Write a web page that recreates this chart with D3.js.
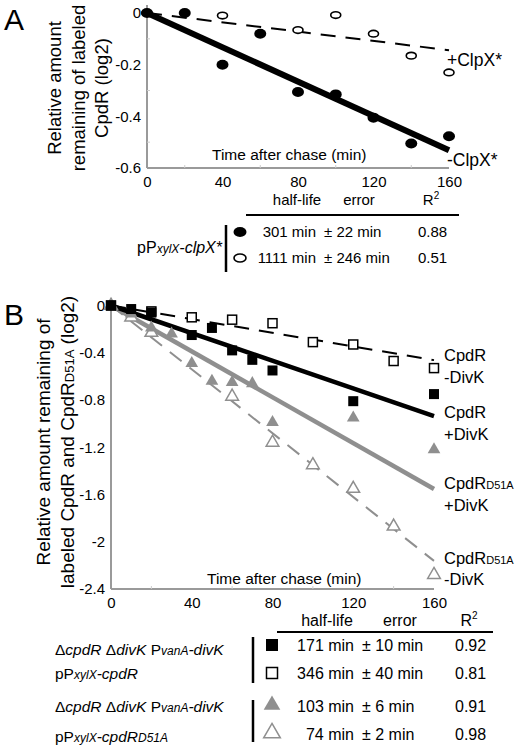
<!DOCTYPE html>
<html><head><meta charset="utf-8">
<script src="https://cdn.jsdelivr.net/npm/d3@7"></script>
<style>
body{margin:0;background:#fff;}
svg{display:block;font-family:"Liberation Sans",Arial,sans-serif;}
</style></head><body>
<svg id="c" width="517" height="749"></svg>
<script>
// ---------- Panel A data ----------
const timesA_minus = [0, 20, 40, 60, 80, 100, 120, 140, 160];
const valuesA_minus = [0, 0, -0.2, -0.08, -0.306, -0.315, -0.405, -0.505, -0.477];
const timesA_plus = [0, 40, 80, 100, 120, 140, 160];
const valuesA_plus = [0, -0.01, -0.066, -0.008, -0.08, -0.165, -0.23];
const halfLifeA = [301, 1111];           // -ClpX*, +ClpX*
const errorA = ["± 22 min", "± 246 min"];
const r2A = ["0.88", "0.51"];
const yTicksA = [0, -0.2, -0.4, -0.6];
const xTicks = [0, 40, 80, 120, 160];

// ---------- Panel B data ----------
const timesB_cpdRplus = [0, 10, 20, 40, 50, 60, 70, 80, 120, 160];
const valuesB_cpdRplus = [0, -0.03, -0.06, -0.25, -0.19, -0.38, -0.46, -0.55, -0.81, -0.75];
const timesB_cpdRminus = [0, 20, 40, 60, 80, 100, 120, 140, 160];
const valuesB_cpdRminus = [0, -0.05, -0.10, -0.12, -0.15, -0.31, -0.33, -0.47, -0.53];
const timesB_d51Aplus = [0, 10, 20, 30, 40, 50, 60, 70, 80, 120, 160];
const valuesB_d51Aplus = [0, -0.07, -0.19, -0.24, -0.49, -0.64, -0.65, -0.66, -0.99, -0.95, -1.22];
const timesB_d51Aminus = [0, 10, 20, 60, 80, 100, 120, 140, 160];
const valuesB_d51Aminus = [0, -0.1, -0.23, -0.77, -1.16, -1.35, -1.55, -1.87, -2.28];
const halfLifeB = [171, 346, 103, 74];   // CpdR+DivK, CpdR-DivK, D51A+DivK, D51A-DivK
const errorB = ["± 10 min", "± 40 min", "± 6 min", "± 2 min"];
const r2B = ["0.92", "0.81", "0.91", "0.98"];
const yTicksB = [0, -0.4, -0.8, -1.2, -1.6, -2, -2.4];

const GRAY = "#8f8f8f";
const AXIS = "#9a9a9a";
const svg = d3.select("#c");
const fmt = v => v === 0 ? "0" : String(v).replace("−", "-");

function addText(g, x, y, parts, opts = {}) {
  const t = g.append("text").attr("x", x).attr("y", y)
    .attr("font-size", opts.size || 16).attr("text-anchor", opts.anchor || "start")
    .attr("fill", opts.fill || "#000");
  if (opts.transform) t.attr("transform", opts.transform);
  parts.forEach(p => {
    const s = t.append("tspan").text(p.t);
    if (p.i) s.attr("font-style", "italic");
    if (p.s) s.attr("font-size", p.s);
  });
  return t;
}

// ================= PANEL A =================
const xA = d3.scaleLinear().domain([0, 160]).range([147, 449]);
const yA = d3.scaleLinear().domain([-0.6, 0]).range([168, 13]);
const gA = svg.append("g");

// axes
gA.append("line").attr("x1", xA(0)).attr("x2", xA(0)).attr("y1", 5).attr("y2", yA(-0.6))
  .attr("stroke", AXIS).attr("stroke-width", 2);
gA.append("line").attr("x1", xA(0)).attr("x2", xA(160)).attr("y1", yA(-0.6)).attr("y2", yA(-0.6))
  .attr("stroke", AXIS).attr("stroke-width", 2);
const yAxA = gA.append("g").attr("transform", `translate(${xA(0) - 3},0)`)
  .call(d3.axisLeft(yA).tickValues(yTicksA).tickSize(0).tickFormat(fmt));
yAxA.select(".domain").remove();
yAxA.selectAll("text").attr("font-size", 15).attr("font-family", "Liberation Sans, Arial").attr("fill", "#000");
const xAxA = gA.append("g").attr("transform", `translate(0,${yA(-0.6) + 5})`)
  .call(d3.axisBottom(xA).tickValues(xTicks).tickSize(0).tickFormat(d3.format("d")));
xAxA.select(".domain").remove();
xAxA.selectAll("text").attr("font-size", 15).attr("font-family", "Liberation Sans, Arial").attr("fill", "#000");
// minor ticks
gA.selectAll(".mtx").data([20, 60, 100, 140]).join("line")
  .attr("x1", d => xA(d)).attr("x2", d => xA(d)).attr("y1", yA(-0.6)).attr("y2", yA(-0.6) - 3)
  .attr("stroke", "#ccc");
gA.selectAll(".mty").data([-0.1, -0.3, -0.5]).join("line")
  .attr("x1", xA(0)).attr("x2", xA(0) + 3).attr("y1", d => yA(d)).attr("y2", d => yA(d))
  .attr("stroke", "#ccc");

addText(gA, 212, 160, [{t: "Time after chase (min)"}], {size: 15.5});

// fit lines
const fitT = [0, 160];
gA.append("path").datum(fitT).attr("fill", "none").attr("stroke", "#000").attr("stroke-width", 2)
  .attr("stroke-dasharray", "15,10")
  .attr("d", d3.line().x(d => xA(d)).y(d => yA(-d / halfLifeA[1])));
gA.append("path").datum(fitT).attr("fill", "none").attr("stroke", "#000").attr("stroke-width", 6)
  .attr("d", d3.line().x(d => xA(d)).y(d => yA(-d / halfLifeA[0])));

// points
gA.selectAll(".op").data(d3.zip(timesA_plus, valuesA_plus)).join("ellipse")
  .attr("cx", d => xA(d[0])).attr("cy", d => yA(d[1])).attr("rx", 5).attr("ry", 3.3)
  .attr("fill", "#fff").attr("stroke", "#000").attr("stroke-width", 1.6);
gA.selectAll(".fp").data(d3.zip(timesA_minus, valuesA_minus)).join("ellipse")
  .attr("cx", d => xA(d[0])).attr("cy", d => yA(d[1])).attr("rx", 6).attr("ry", 5)
  .attr("fill", "#000");

addText(gA, 447, 66, [{t: "+ClpX*"}], {size: 17.5});
addText(gA, 447, 166, [{t: "-ClpX*"}], {size: 17.5});

// y title
[["Relative amount", 61], ["remaining of labeled", 85], ["CpdR (log2)", 108]].forEach(([s, x]) => {
  addText(gA, 0, 0, [{t: s}], {size: 18.5, anchor: "middle", transform: `translate(${x},88) rotate(-90)`});
});
addText(gA, 4, 30, [{t: "A"}], {size: 30});

// table A
addText(gA, 297, 205, [{t: "half-life"}], {size: 15, anchor: "middle"});
addText(gA, 359, 205, [{t: "error"}], {size: 15, anchor: "middle"});
const r2hA = addText(gA, 431, 205, [{t: "R"}], {size: 15, anchor: "middle"});
r2hA.append("tspan").text("2").attr("font-size", 10).attr("dy", -6);
gA.append("line").attr("x1", 246).attr("x2", 459).attr("y1", 215).attr("y2", 215).attr("stroke", "#000").attr("stroke-width", 2);
gA.append("line").attr("x1", 226).attr("x2", 226).attr("y1", 225).attr("y2", 272).attr("stroke", "#000").attr("stroke-width", 2.5);
const rowYA = [237, 263];
gA.append("ellipse").attr("cx", 240).attr("cy", rowYA[0] - 5).attr("rx", 6.5).attr("ry", 5).attr("fill", "#000");
gA.append("ellipse").attr("cx", 240).attr("cy", rowYA[1] - 5).attr("rx", 6).attr("ry", 4).attr("fill", "#fff").attr("stroke", "#000").attr("stroke-width", 1.6);
halfLifeA.forEach((h, i) => {
  addText(gA, 316, rowYA[i], [{t: `${h} min`}], {size: 15, anchor: "end"});
  addText(gA, 324, rowYA[i], [{t: errorA[i]}], {size: 15});
  addText(gA, 418, rowYA[i], [{t: r2A[i]}], {size: 15});
});
addText(gA, 222, 253, [{t: "pP"}, {t: "xylX", i: 1, s: 12}, {t: "-clpX*", i: 1}], {size: 16, anchor: "end"});

// ================= PANEL B =================
const xB = d3.scaleLinear().domain([0, 160]).range([111, 434]);
const yB = d3.scaleLinear().domain([-2.4, 0]).range([589, 305.5]);
const gB = svg.append("g");

gB.append("line").attr("x1", xB(0)).attr("x2", xB(0)).attr("y1", 300).attr("y2", yB(-2.4))
  .attr("stroke", AXIS).attr("stroke-width", 2);
gB.append("line").attr("x1", xB(0)).attr("x2", xB(160)).attr("y1", yB(-2.4)).attr("y2", yB(-2.4))
  .attr("stroke", AXIS).attr("stroke-width", 2);
const yAxB = gB.append("g").attr("transform", `translate(${xB(0) - 3},0)`)
  .call(d3.axisLeft(yB).tickValues(yTicksB).tickSize(0).tickFormat(fmt));
yAxB.select(".domain").remove();
yAxB.selectAll("text").attr("font-size", 15).attr("font-family", "Liberation Sans, Arial").attr("fill", "#000");
const xAxB = gB.append("g").attr("transform", `translate(0,${yB(-2.4) + 5})`)
  .call(d3.axisBottom(xB).tickValues(xTicks).tickSize(0).tickFormat(d3.format("d")));
xAxB.select(".domain").remove();
xAxB.selectAll("text").attr("font-size", 15).attr("font-family", "Liberation Sans, Arial").attr("fill", "#000");
gB.selectAll(".mtx").data([20, 60, 100, 140]).join("line")
  .attr("x1", d => xB(d)).attr("x2", d => xB(d)).attr("y1", yB(-2.4)).attr("y2", yB(-2.4) - 3)
  .attr("stroke", "#ccc");
addText(gB, 207, 584, [{t: "Time after chase (min)"}], {size: 15.5});

// fit lines
const lineB = h => d3.line().x(d => xB(d)).y(d => yB(-d / h));
gB.append("path").datum(fitT).attr("fill", "none").attr("stroke", GRAY).attr("stroke-width", 2)
  .attr("stroke-dasharray", "15,10").attr("d", lineB(halfLifeB[3]));
gB.append("path").datum(fitT).attr("fill", "none").attr("stroke", "#000").attr("stroke-width", 2)
  .attr("stroke-dasharray", "15,10").attr("d", lineB(halfLifeB[1]));
gB.append("path").datum(fitT).attr("fill", "none").attr("stroke", GRAY).attr("stroke-width", 4.5)
  .attr("d", lineB(halfLifeB[2]));
gB.append("path").datum(fitT).attr("fill", "none").attr("stroke", "#000").attr("stroke-width", 4.5)
  .attr("d", lineB(halfLifeB[0]));

const tri = d3.symbol().type(d3.symbolTriangle).size(70)();
gB.selectAll(".ot").data(d3.zip(timesB_d51Aminus, valuesB_d51Aminus)).join("path")
  .attr("d", tri).attr("transform", d => `translate(${xB(d[0])},${yB(d[1])})`)
  .attr("fill", "#fff").attr("stroke", GRAY).attr("stroke-width", 1.5);
gB.selectAll(".ft").data(d3.zip(timesB_d51Aplus, valuesB_d51Aplus)).join("path")
  .attr("d", tri).attr("transform", d => `translate(${xB(d[0])},${yB(d[1])})`)
  .attr("fill", GRAY);
gB.selectAll(".os").data(d3.zip(timesB_cpdRminus, valuesB_cpdRminus)).join("rect")
  .attr("x", d => xB(d[0]) - 4.5).attr("y", d => yB(d[1]) - 4.5).attr("width", 9).attr("height", 9)
  .attr("fill", "#fff").attr("stroke", "#000").attr("stroke-width", 1.5);
gB.selectAll(".fs").data(d3.zip(timesB_cpdRplus, valuesB_cpdRplus)).join("rect")
  .attr("x", d => xB(d[0]) - 5).attr("y", d => yB(d[1]) - 5).attr("width", 10).attr("height", 10)
  .attr("fill", "#000");

// line labels
const lbl = (y, parts) => addText(gB, 444, y, parts, {size: 16.5});
lbl(361, [{t: "CpdR"}]);
lbl(383, [{t: "-DivK"}]);
lbl(418, [{t: "CpdR"}]);
lbl(440, [{t: "+DivK"}]);
lbl(489, [{t: "CpdR"}, {t: "D51A", s: 11}]);
lbl(511, [{t: "+DivK"}]);
lbl(564, [{t: "CpdR"}, {t: "D51A", s: 11}]);
lbl(585, [{t: "-DivK"}]);

// y title
addText(gB, 0, 0, [{t: "Relative amount remaining of"}], {size: 19, anchor: "middle", transform: "translate(50,442) rotate(-90)"});
addText(gB, 0, 0, [{t: "labeled CpdR and CpdR"}, {t: "D51A", s: 13}, {t: " (log2)"}], {size: 19, anchor: "middle", transform: "translate(74,442) rotate(-90)"});
addText(gB, 4, 325, [{t: "B"}], {size: 30});

// table B
addText(gB, 327, 626, [{t: "half-life"}], {size: 16, anchor: "middle"});
addText(gB, 400, 626, [{t: "error"}], {size: 16, anchor: "middle"});
const r2hB = addText(gB, 469, 626, [{t: "R"}], {size: 16, anchor: "middle"});
r2hB.append("tspan").text("2").attr("font-size", 10).attr("dy", -7);
gB.append("line").attr("x1", 277).attr("x2", 493).attr("y1", 632).attr("y2", 632).attr("stroke", "#000").attr("stroke-width", 2);
gB.append("line").attr("x1", 253).attr("x2", 253).attr("y1", 637).attr("y2", 683).attr("stroke", "#000").attr("stroke-width", 2.5);
gB.append("line").attr("x1", 253).attr("x2", 253).attr("y1", 700).attr("y2", 742).attr("stroke", "#000").attr("stroke-width", 2.5);
const rowYB = [651, 679, 712, 740];
gB.append("rect").attr("x", 266).attr("y", rowYB[0] - 12).attr("width", 12).attr("height", 12).attr("fill", "#000");
gB.append("rect").attr("x", 266.5).attr("y", rowYB[1] - 11.5).attr("width", 11).attr("height", 11).attr("fill", "#fff").attr("stroke", "#000").attr("stroke-width", 1.5);
const triBig = d3.symbol().type(d3.symbolTriangle).size(120)();
gB.append("path").attr("d", triBig).attr("transform", `translate(272,${rowYB[2] - 7})`).attr("fill", GRAY);
gB.append("path").attr("d", triBig).attr("transform", `translate(272,${rowYB[3] - 7})`).attr("fill", "#fff").attr("stroke", GRAY).attr("stroke-width", 1.5);
halfLifeB.forEach((h, i) => {
  addText(gB, 354, rowYB[i], [{t: `${h} min`}], {size: 16, anchor: "end"});
  addText(gB, 362, rowYB[i], [{t: errorB[i]}], {size: 16});
  addText(gB, 455, rowYB[i], [{t: r2B[i]}], {size: 16});
});
const strain = [{t: "Δ"}, {t: "cpdR", i: 1}, {t: " Δ"}, {t: "divK", i: 1}, {t: " P"}, {t: "vanA", i: 1, s: 12}, {t: "-divK", i: 1}];
addText(gB, 55, 655, strain, {size: 15.5});
addText(gB, 55, 679, [{t: "pP"}, {t: "xylX", i: 1, s: 12}, {t: "-cpdR", i: 1}], {size: 15.5});
addText(gB, 55, 712, strain, {size: 15.5});
addText(gB, 55, 742, [{t: "pP"}, {t: "xylX", i: 1, s: 12}, {t: "-cpdR", i: 1}, {t: "D51A", i: 1, s: 12}], {size: 15.5});
</script>
</body></html>
